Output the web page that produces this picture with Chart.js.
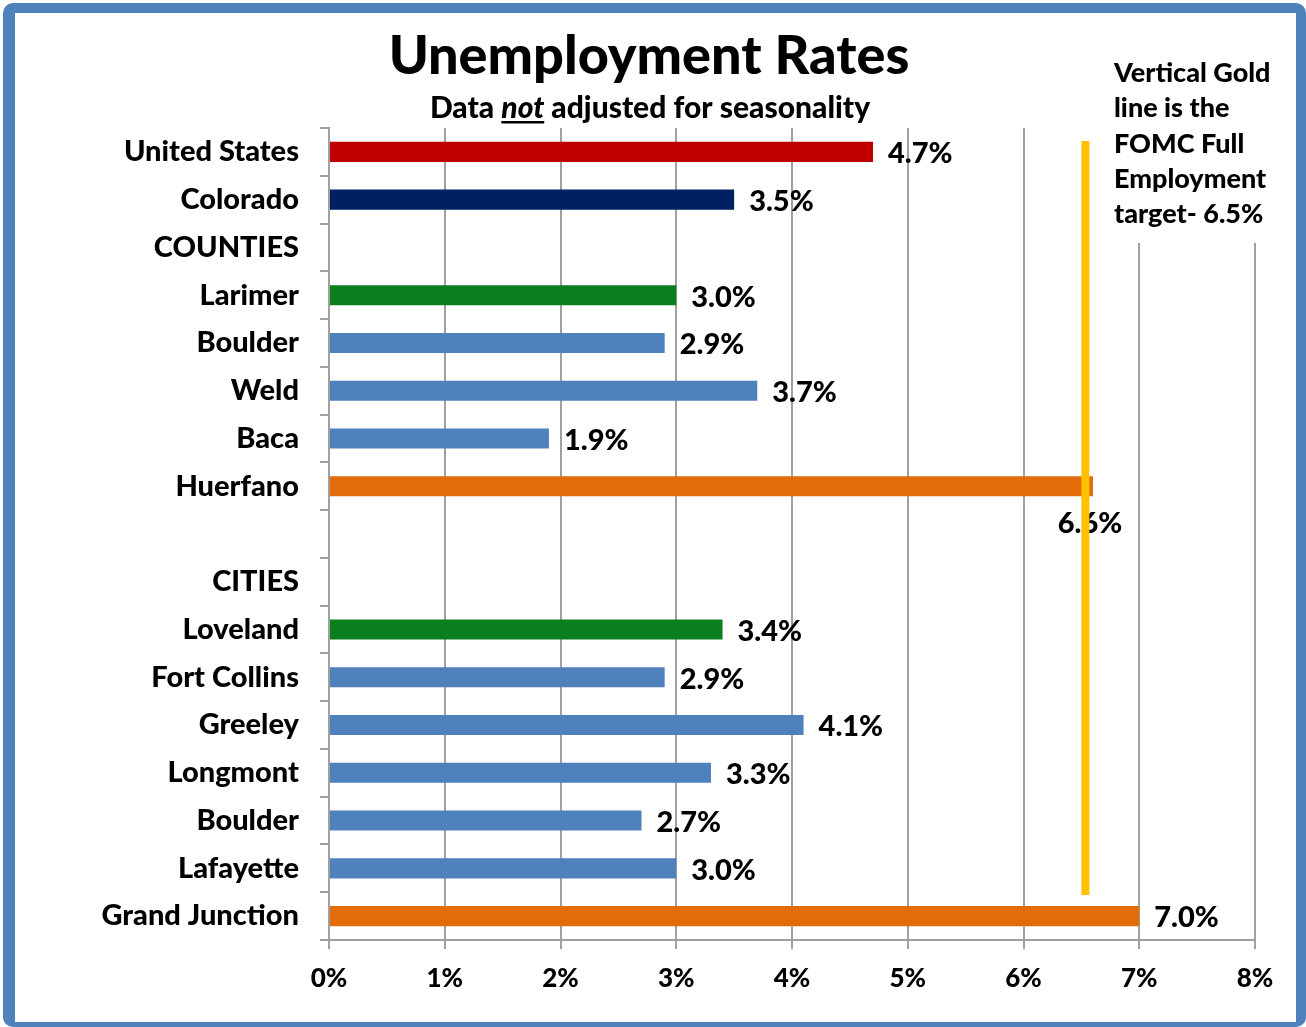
<!DOCTYPE html>
<html>
<head>
<meta charset="utf-8">
<script src="https://cdn.jsdelivr.net/npm/chart.js@4.4.1/dist/chart.umd.min.js"></script>
<style>
  html, body { margin: 0; padding: 0; background: #fff; }
  #wrap { position: relative; width: 1306px; height: 1027px; overflow: hidden; }
  #frame { position: absolute; left: 3px; top: 3px; width: 1303px; height: 1024px; box-sizing: border-box;
           border-style: solid; border-color: #4F81BD; border-width: 10px 10px 5px 12px; border-radius: 10px; pointer-events: none; }
  canvas { position: absolute; left: 0; top: 0; }
</style>
</head>
<body>
<div id="wrap">
  <canvas id="c" width="1306" height="1027"></canvas>
  <div id="frame"></div>
</div>
<script>
// ---- data ----
const categories = ['United States', 'Colorado', 'COUNTIES', 'Larimer', 'Boulder', 'Weld', 'Baca', 'Huerfano', '',
  'CITIES', 'Loveland', 'Fort Collins', 'Greeley', 'Longmont', 'Boulder', 'Lafayette', 'Grand Junction'];
const rates = [4.7, 3.5, null, 3.0, 2.9, 3.7, 1.9, 6.6, null, null, 3.4, 2.9, 4.1, 3.3, 2.7, 3.0, 7.0];
const xTicks = [0, 1, 2, 3, 4, 5, 6, 7, 8];
const targetRate = 6.5;
const titleText = 'Unemployment Rates';
const noteLines = ['Vertical Gold', 'line is the', 'FOMC Full', 'Employment', 'target- 6.5%'];

// ---- styles ----
const RED = '#C00000', NAVY = '#002060', GREEN = '#0B7E1E', BLUE = '#4F81BD', ORANGE = '#E36C0A';
const barColors = [RED, NAVY, BLUE, GREEN, BLUE, BLUE, BLUE, ORANGE, BLUE, BLUE, GREEN, BLUE, BLUE, BLUE, BLUE, BLUE, ORANGE];
const FONT = 'Lato, "Open Sans", sans-serif';
const W = '900';
const GRID = '#a0a0a0';

const decorPlugin = {
  id: 'decor',
  beforeDatasetsDraw(chart) {
    const ctx = chart.ctx;
    ctx.save();
    ctx.fillStyle = '#fff';
    ctx.fillRect(1100, 40, 190, 203);
    ctx.restore();
  },
  afterDatasetsDraw(chart) {
    const ctx = chart.ctx;
    const xs = chart.scales.x, ys = chart.scales.y;
    const meta = chart.getDatasetMeta(0);
    const tx = xs.getPixelForValue(targetRate);
    ctx.save();
    // data labels
    ctx.fillStyle = '#000';
    ctx.font = W + ' 29px ' + FONT;
    ctx.textBaseline = 'middle';
    meta.data.forEach((bar, i) => {
      const v = rates[i];
      if (v === null) return;
      const label = v.toFixed(1) + '%';
      if (bar.x > tx - 2 && bar.x < tx + 25) {
        ctx.textAlign = 'center';
        ctx.fillText(label, bar.x - 3, bar.y + 37);
      } else {
        ctx.textAlign = 'left';
        ctx.fillText(label, bar.x + 15, bar.y + 2);
      }
    });
    // target line
    ctx.strokeStyle = '#FFC000';
    ctx.lineWidth = 8;
    ctx.beginPath();
    ctx.moveTo(tx + 4, ys.getPixelForValue(-0.23));
    ctx.lineTo(tx + 4, ys.getPixelForValue(15.56));
    ctx.stroke();
    // title
    ctx.textAlign = 'center';
    ctx.textBaseline = 'alphabetic';
    ctx.font = W + ' 54px ' + FONT;
    ctx.fillText(titleText, 649, 74);
    // subtitle with italic underlined "not"
    const p1 = 'Data ', p2 = 'not', p3 = ' adjusted for seasonality';
    const fN = W + ' 30px ' + FONT, fI = 'italic ' + W + ' 30px ' + FONT;
    ctx.font = fN; const w1 = ctx.measureText(p1).width, w3 = ctx.measureText(p3).width;
    ctx.font = fI; const w2 = ctx.measureText(p2).width;
    let sx = 650 - (w1 + w2 + w3) / 2;
    const sy = 118;
    ctx.textAlign = 'left';
    ctx.font = fN; ctx.fillText(p1, sx, sy);
    ctx.font = fI; ctx.fillText(p2, sx + w1, sy);
    ctx.fillRect(sx + w1, sy + 3, w2, 2.5);
    ctx.font = fN; ctx.fillText(p3, sx + w1 + w2, sy);
    // note
    ctx.font = W + ' 27px ' + FONT;
    ctx.textBaseline = 'middle';
    noteLines.forEach((t, i) => ctx.fillText(t, 1114, 73 + i * 35.4));
    ctx.restore();
  }
};

new Chart(document.getElementById('c'), {
  type: 'bar',
  data: {
    labels: categories,
    datasets: [{
      data: rates,
      backgroundColor: barColors,
      borderWidth: 0,
      barPercentage: 0.42,
      categoryPercentage: 1
    }]
  },
  options: {
    indexAxis: 'y',
    responsive: false,
    animation: false,
    layout: { padding: { top: 128, right: 51, left: 0, bottom: 0 } },
    plugins: { legend: { display: false }, tooltip: { enabled: false }, title: { display: false } },
    scales: {
      x: {
        min: 0, max: 8,
        afterBuildTicks(s) { s.ticks = xTicks.map(v => ({ value: v })); },
        afterFit(s) { s.height = 87; },
        ticks: { callback: v => v + '%', color: '#000', font: { family: FONT, size: 26, weight: W }, padding: 14, maxRotation: 0 },
        grid: { color: GRID, lineWidth: 2, tickLength: 9 },
        border: { color: GRID, width: 2 }
      },
      y: {
        afterFit(s) { s.width = 329; },
        ticks: { color: '#000', font: { family: FONT, size: 29, weight: W }, padding: 21, autoSkip: false },
        grid: { color: GRID, lineWidth: 2, tickLength: 9, drawOnChartArea: false, offset: true },
        border: { color: GRID, width: 2 }
      }
    }
  },
  plugins: [decorPlugin]
});
</script>
</body>
</html>
